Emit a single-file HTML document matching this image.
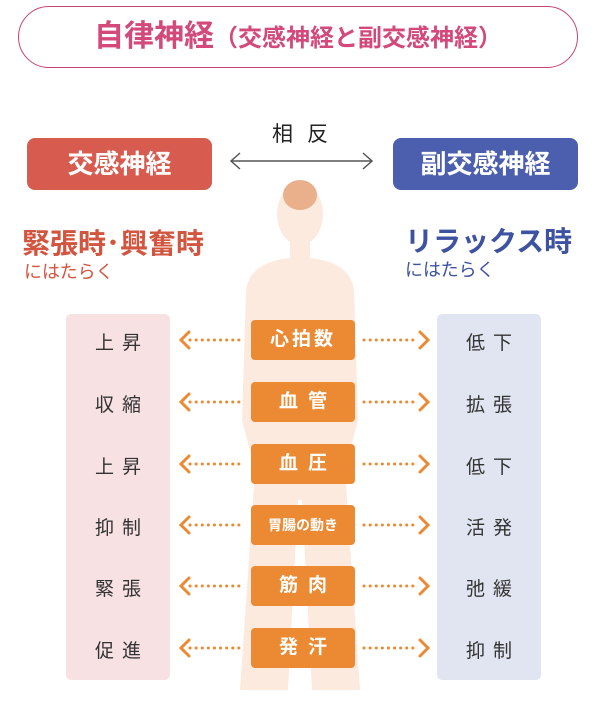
<!DOCTYPE html>
<html><head><meta charset="utf-8"><style>
body{margin:0;width:600px;height:707px;background:#fff;position:relative;overflow:hidden;font-family:"Liberation Sans","Noto Sans CJK JP",sans-serif}
.a{position:absolute}
.title{left:18px;top:6px;width:558px;height:60px;border:1.5px solid #c8436e;border-radius:31px;text-align:center;line-height:60px;color:#d2497a;font-weight:bold;font-size:30px}
.title span{font-size:24px}
.hb{top:138px;width:185px;height:52px;border-radius:8px;color:#fff;font-size:26px;font-weight:bold;text-align:center;line-height:52px}
.panel{top:314px;width:104px;height:366px;border-radius:5px}
.lbl{width:104px;text-align:center;font-size:19px;color:#333;letter-spacing:8px;text-indent:8px}
.ob{left:251px;width:104px;height:40px;background:#ec8a33;border-radius:4px;color:#fff;text-align:center;line-height:40px;font-weight:bold;font-size:19px;letter-spacing:3px}
</style></head><body>
<div class="a title">自律神経<span>（交感神経と副交感神経）</span></div>
<div class="a" style="left:0;width:600px;top:118px;text-align:center;font-size:21px;letter-spacing:14px;text-indent:14px;color:#222">相反</div>
<svg class="a" style="left:0;top:0" width="600" height="707">
<line x1="231" y1="161" x2="372" y2="161" stroke="#555" stroke-width="1.5"/>
<polyline points="240,153 231,161 240,169" fill="none" stroke="#555" stroke-width="1.5"/>
<polyline points="363,153 372,161 363,169" fill="none" stroke="#555" stroke-width="1.5"/>
<g fill="#fdeade">
<ellipse cx="300" cy="214" rx="23" ry="31"/>
<rect x="290" y="240" width="20" height="25"/>
<path d="M246,290 Q250,262 290,258 L310,258 Q350,262 354,290 L358,420 L345,470 L360,690 L312,690 L302,500 L298,500 L288,690 L240,690 L255,470 L242,420 Z"/>
</g>
<g fill="#eab08c"><ellipse cx="300" cy="195" rx="17" ry="15"/></g>
</svg>
<div class="a hb" style="left:27px;background:#d85b4f">交感神経</div>
<div class="a hb" style="left:393px;background:#4c5fae">副交感神経</div>
<div class="a" style="left:22px;top:222px;font-size:28px;font-weight:bold;color:#d2553f">緊張時･興奮時</div>
<div class="a" style="left:24px;top:258px;font-size:18px;color:#d2553f">にはたらく</div>
<div class="a" style="left:405px;top:220px;font-size:28px;font-weight:bold;color:#3e52a2">リラックス時</div>
<div class="a" style="left:405px;top:256px;font-size:18px;color:#3e52a2">にはたらく</div>
<div class="a panel" style="left:66px;background:rgba(246,220,222,0.85)"></div>
<div class="a panel" style="left:437px;background:rgba(222,226,240,0.9)"></div>
<svg class="a" style="left:0;top:0" width="600" height="707">
<defs>
<g id="r"><line x1="190" y1="0" x2="244" y2="0" stroke-dasharray="0.1 6"/><polyline points="189,-8 181,0 189,8"/>
<line x1="364" y1="0" x2="418" y2="0" stroke-dasharray="0.1 6"/><polyline points="420,-8 428,0 420,8"/></g>
</defs>
<g stroke="#ec8a33" stroke-width="3" fill="none" stroke-linecap="round">
<use href="#r" y="340"/><use href="#r" y="402"/><use href="#r" y="464"/><use href="#r" y="525"/><use href="#r" y="586"/><use href="#r" y="648"/>
</g>
</svg>
<div class="a ob" style="top:320px">心拍数</div>
<div class="a ob" style="top:382px;letter-spacing:10px;text-indent:10px">血管</div>
<div class="a ob" style="top:444px;letter-spacing:10px;text-indent:10px">血圧</div>
<div class="a ob" style="top:505px;font-size:14px;letter-spacing:0">胃腸の動き</div>
<div class="a ob" style="top:566px;letter-spacing:10px;text-indent:10px">筋肉</div>
<div class="a ob" style="top:628px;letter-spacing:10px;text-indent:10px">発汗</div>
<div class="a lbl" style="left:66px;top:328px">上昇</div>
<div class="a lbl" style="left:66px;top:390px">収縮</div>
<div class="a lbl" style="left:66px;top:452px">上昇</div>
<div class="a lbl" style="left:66px;top:513px">抑制</div>
<div class="a lbl" style="left:66px;top:574px">緊張</div>
<div class="a lbl" style="left:66px;top:636px">促進</div>
<div class="a lbl" style="left:437px;top:328px">低下</div>
<div class="a lbl" style="left:437px;top:390px">拡張</div>
<div class="a lbl" style="left:437px;top:452px">低下</div>
<div class="a lbl" style="left:437px;top:513px">活発</div>
<div class="a lbl" style="left:437px;top:574px">弛緩</div>
<div class="a lbl" style="left:437px;top:636px">抑制</div>
</body></html>
